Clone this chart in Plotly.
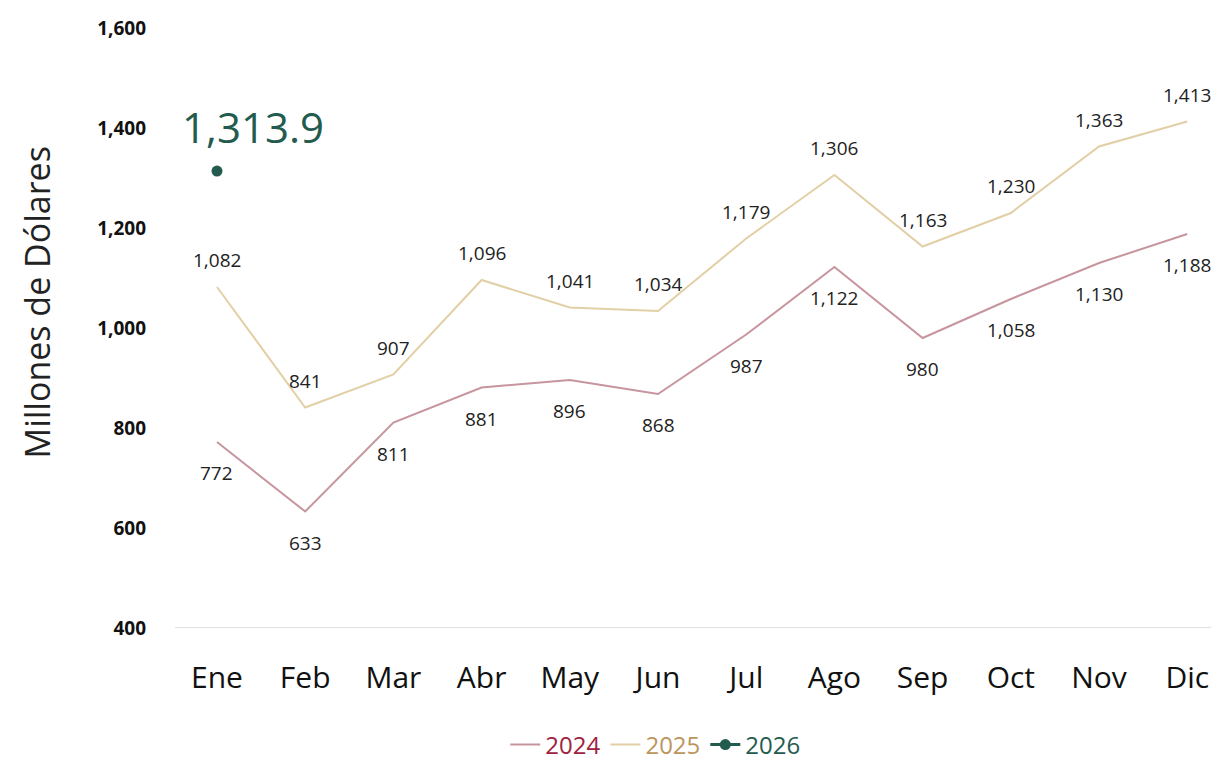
import plotly.graph_objects as go

months = ["Ene", "Feb", "Mar", "Abr", "May", "Jun", "Jul", "Ago", "Sep", "Oct", "Nov", "Dic"]
v2024 = [772, 633, 811, 881, 896, 868, 987, 1122, 980, 1058, 1130, 1188]
v2025 = [1082, 841, 907, 1096, 1041, 1034, 1179, 1306, 1163, 1230, 1363, 1413]
months2026 = ["Ene"]
v2026 = [1313.9]
y_ticks = [400, 600, 800, 1000, 1200, 1400, 1600]

FONT = "Open Sans"
x_idx = list(range(len(months)))

fig = go.Figure()
fig.add_trace(go.Scatter(
    x=x_idx, y=v2024, mode="lines",
    name="<span style='color:#9F2241'>2024</span>",
    line=dict(color="#C7959E", width=2),
))
fig.add_trace(go.Scatter(
    x=x_idx, y=v2025, mode="lines",
    name="<span style='color:#BC955C'>2025</span>",
    line=dict(color="#E2CFA6", width=2),
))
fig.add_trace(go.Scatter(
    x=[months.index(m) for m in months2026], y=v2026, mode="lines+markers",
    name="<span style='color:#235B4E'>2026</span>",
    line=dict(color="#235B4E", width=3),
    marker=dict(color="#235B4E", size=11),
))

for i, v in enumerate(v2024):
    fig.add_annotation(x=i, y=v, text=f"{v:,}", showarrow=False, yshift=-31,
                       yanchor="middle", font=dict(family=FONT, size=19, color="#222222"))
for i, v in enumerate(v2025):
    fig.add_annotation(x=i, y=v, text=f"{v:,}", showarrow=False, yshift=27,
                       yanchor="middle", font=dict(family=FONT, size=19, color="#222222"))

fig.add_annotation(
    x=months.index(months2026[0]), y=v2026[0], text=f"{v2026[0]:,.1f}",
    showarrow=False, xshift=36, yshift=45, yanchor="middle",
    font=dict(family=FONT, size=42, color="#235B4E"),
)
fig.add_annotation(
    xref="paper", yref="paper", x=-0.132, y=0.543, xanchor="center", yanchor="middle",
    text="Millones de Dólares", textangle=-90, showarrow=False,
    font=dict(family=FONT, size=34, color="#222222"),
)

fig.update_layout(
    width=1211, height=753,
    margin=dict(l=167, r=0, t=20, b=133, autoexpand=False),
    paper_bgcolor="white", plot_bgcolor="white",
    showlegend=True,
    legend=dict(orientation="h", x=0.46, xanchor="center", y=-0.195, yanchor="middle",
                font=dict(family=FONT, size=24), itemwidth=30, traceorder="normal",
                tracegroupgap=0),
    xaxis=dict(
        range=[-0.476, 11.36], tickmode="array", tickvals=x_idx, ticktext=months,
        showgrid=False, zeroline=False, showline=False,
        tickfont=dict(family=FONT, size=30, color="#111111"),
        ticklabelstandoff=29,
    ),
    yaxis=dict(
        range=[400, 1600], tickmode="array", tickvals=y_ticks,
        ticktext=[f"<b>{v:,}</b>" for v in y_ticks],
        showgrid=False, zeroline=False, showline=False,
        tickfont=dict(family=FONT, size=19, color="#111111"),
        ticklabelstandoff=28,
    ),
    shapes=[dict(type="line", xref="paper", yref="y", x0=0, x1=1, y0=400, y1=400,
                 line=dict(color="#D6D6D6", width=1.5))],
)

fig.write_html("out.html")
